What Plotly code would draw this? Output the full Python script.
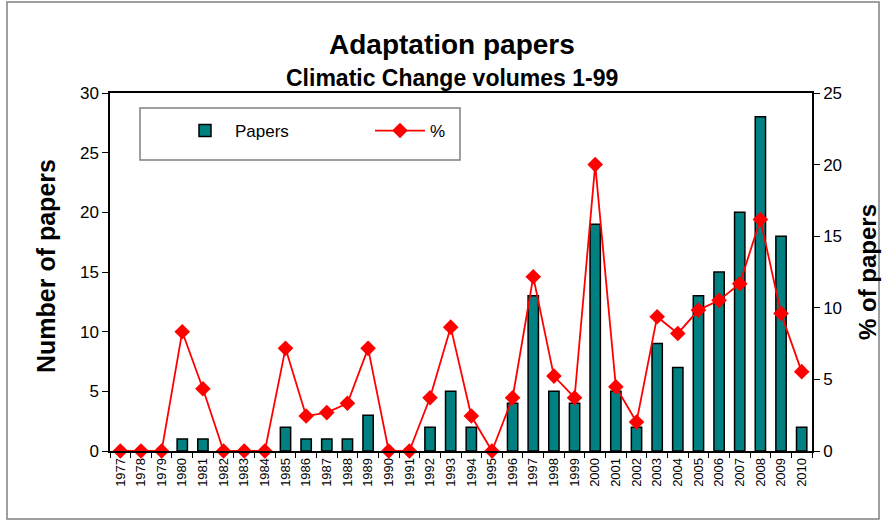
import plotly.graph_objects as go

years = [str(y) for y in range(1977, 2011)]
papers = [0, 0, 0, 1, 1, 0, 0, 0, 2, 1, 1, 1, 3, 0, 0, 2, 5, 2, 0, 4,
          13, 5, 4, 19, 5, 2, 9, 7, 13, 15, 20, 28, 18, 2]
percent = [0, 0, 0, 8.33, 4.35, 0, 0, 0, 7.17, 2.44, 2.68, 3.33, 7.17, 0, 0, 3.72, 8.65, 2.44, 0, 3.72,
           12.17, 5.23, 3.72, 20.0, 4.49, 2.02, 9.38, 8.21, 9.84, 10.52, 11.68, 16.17, 9.61, 5.54]

FONT = "Liberation Sans, Arial, sans-serif"

fig = go.Figure()
fig.add_trace(go.Bar(
    x=years, y=papers, name="Papers",
    marker=dict(color="#008080", line=dict(color="black", width=1.5)),
    yaxis="y",
))
fig.add_trace(go.Scatter(
    x=years, y=percent, name="%", mode="lines+markers",
    line=dict(color="#FF0000", width=1.8),
    marker=dict(symbol="diamond", size=12, color="#FF0000"),
    yaxis="y2", cliponaxis=False,
))

L, R, T, B = 110, 70, 93, 70
W, H = 882, 521
pw, ph = W - L - R, H - T - B

def px(x):
    return (x - L) / pw

def py(y):
    return (H - B - y) / ph

fig.update_layout(
    width=W, height=H,
    margin=dict(l=L, r=R, t=T, b=B, autoexpand=False),
    paper_bgcolor="white", plot_bgcolor="white",
    font=dict(family=FONT, color="black"),
    bargap=0.5,
    showlegend=True,
    legend=dict(
        orientation="h", x=px(175), y=py(131), xanchor="left", yanchor="middle",
        borderwidth=0, bgcolor="rgba(0,0,0,0)",
        font=dict(size=17, family=FONT), entrywidth=130, entrywidthmode="pixels",
        itemwidth=50,
    ),
    xaxis=dict(
        type="category", range=[-0.5, len(years) - 0.5], tickangle=-90, tickfont=dict(size=13),
        showline=True, linecolor="black", linewidth=1.5, mirror=True,
        ticks="outside", ticklen=5, tickcolor="black", tickson="boundaries",
        showgrid=False, zeroline=False, automargin=False,
    ),
    yaxis=dict(
        range=[0, 30], dtick=5, tickfont=dict(size=17),
        showline=True, linecolor="black", linewidth=1.5,
        ticks="outside", ticklen=6, tickcolor="black",
        showgrid=False, zeroline=False, automargin=False,
    ),
    yaxis2=dict(
        range=[0, 25], dtick=5, tickfont=dict(size=17), overlaying="y", side="right",
        showline=True, linecolor="black", linewidth=1.5,
        ticks="outside", ticklen=6, tickcolor="black",
        showgrid=False, zeroline=False, automargin=False,
    ),
    annotations=[
        dict(text="<b>Adaptation papers</b>", x=px(452), y=py(45), xref="paper", yref="paper",
             showarrow=False, font=dict(size=28, family=FONT), xanchor="center", yanchor="middle"),
        dict(text="<b>Climatic Change volumes 1-99</b>", x=px(452), y=py(78), xref="paper", yref="paper",
             showarrow=False, font=dict(size=23, family=FONT), xanchor="center", yanchor="middle"),
        dict(text="<b>Number of papers</b>", x=px(46), y=py(266), xref="paper", yref="paper",
             showarrow=False, textangle=-90, font=dict(size=25, family=FONT),
             xanchor="center", yanchor="middle"),
        dict(text="<b>% of papers</b>", x=px(867), y=py(272), xref="paper", yref="paper",
             showarrow=False, textangle=-90, font=dict(size=24, family=FONT),
             xanchor="center", yanchor="middle"),
    ],
    shapes=[
        dict(type="rect", xref="paper", yref="paper",
             x0=px(7), x1=px(879), y0=py(519), y1=py(2),
             line=dict(color="#808080", width=1.5), fillcolor="rgba(0,0,0,0)"),
        dict(type="rect", xref="paper", yref="paper",
             x0=px(140), x1=px(460), y0=py(160), y1=py(108),
             line=dict(color="#808080", width=1.5), fillcolor="rgba(0,0,0,0)"),
    ],
)

fig.write_html("out.html", config={"displayModeBar": False},
               post_script="document.body.style.margin='0';")
